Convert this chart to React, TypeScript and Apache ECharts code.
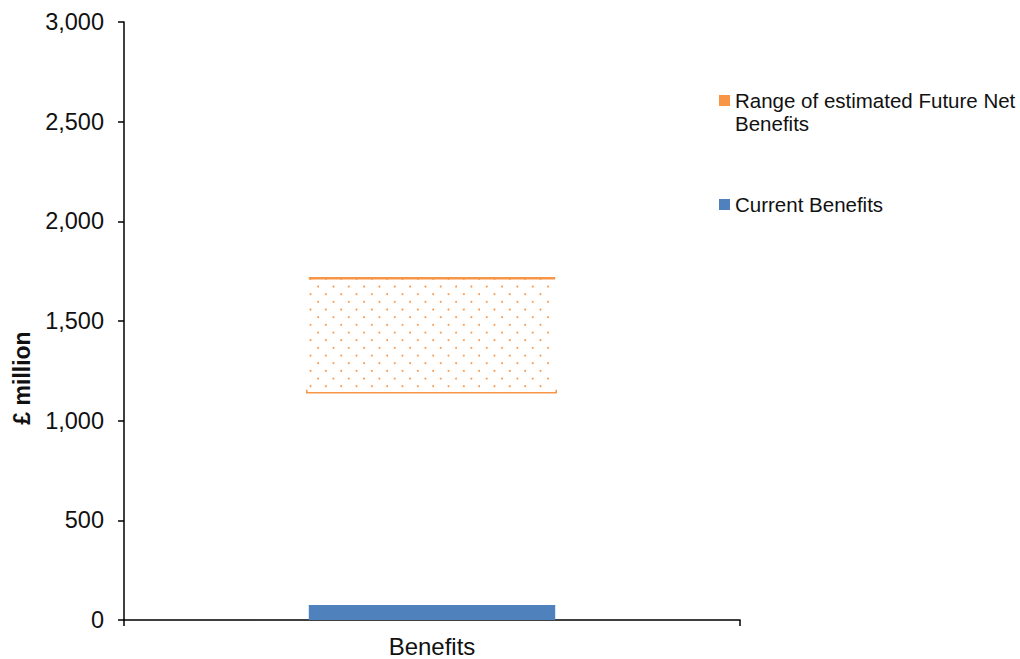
import React, { useEffect, useRef } from "react";
import * as echarts from "echarts";

const categories = ["Benefits"];
const currentBenefits = [75];
const futureLow = [1140];
const futureHigh = [1715];
const yMin = 0;
const yMax = 3000;
const yInterval = 500;
const rangeName = "Range of estimated Future Net Benefits";
const currentName = "Current Benefits";
const yAxisTitle = "£ million";

const ORANGE = "#F79646";
const BLUE = "#4F81BD";
const TEXT = "#111111";
const FONT = "'Liberation Sans', Arial, sans-serif";

export default function App() {
  const ref = useRef<HTMLDivElement>(null);

  useEffect(() => {
    document.body.style.margin = "0";
    if (!ref.current) return;
    const chart = echarts.init(ref.current, undefined, { renderer: "svg" });

    const rangeData = categories.map((c, i) => [i, futureLow[i], futureHigh[i]]);

    const renderRange = (params: any, api: any) => {
      const idx = api.value(0);
      const low = api.value(1);
      const high = api.value(2);
      const pLow = api.coord([idx, low]);
      const pHigh = api.coord([idx, high]);
      const bw = api.size([1, 0])[0] * 0.4;
      const cx = pLow[0];
      const left = cx - bw / 2;
      const right = cx + bw / 2;
      const yTop = pHigh[1];
      const yBot = pLow[1];
      const children: any[] = [];
      const rowStep = 7.67;
      const colStep = 15.33;
      let r = 0;
      for (let y = yTop + 0.7; y < yBot - 2; y += rowStep, r++) {
        const start = left + (r % 2 === 0 ? 1.7 : 9.3);
        for (let x = start; x <= right - 1; x += colStep) {
          children.push({
            type: "circle",
            shape: { cx: x, cy: y, r: 1.0 },
            style: { fill: ORANGE, opacity: 0.9 },
            silent: true,
          });
        }
      }
      children.push({
        type: "line",
        shape: { x1: left, y1: yTop, x2: right, y2: yTop },
        style: { stroke: ORANGE, lineWidth: 2.5 },
      });
      children.push({
        type: "polyline",
        shape: {
          points: [
            [left - 2, yBot - 3],
            [left - 2, yBot],
            [right + 1, yBot],
            [right + 1, yBot - 3],
          ],
        },
        style: { stroke: ORANGE, lineWidth: 1.5, fill: "none" },
      });
      return { type: "group", children };
    };

    chart.setOption({
      animation: false,
      textStyle: { fontFamily: FONT },
      grid: { left: 124, right: 280, top: 22, bottom: 39, containLabel: false },
      legend: [
        {
          data: [rangeName],
          orient: "vertical",
          left: 719,
          top: 66,
          padding: 0,
          itemWidth: 11,
          itemHeight: 11,
          icon: "rect",
          textStyle: { fontSize: 20.5, color: TEXT, lineHeight: 23, fontFamily: FONT },
          formatter: () => "\nRange of estimated Future Net\nBenefits",
          selectedMode: false,
        },
        {
          data: [currentName],
          orient: "vertical",
          left: 719,
          top: 193,
          padding: 0,
          itemWidth: 11,
          itemHeight: 11,
          icon: "rect",
          textStyle: { fontSize: 20.5, color: TEXT, lineHeight: 23, fontFamily: FONT },
          selectedMode: false,
        },
      ],
      xAxis: {
        type: "category",
        data: categories,
        axisLine: { lineStyle: { color: "#000", width: 1.5 } },
        axisTick: { show: true, length: 6, lineStyle: { color: "#000", width: 1.5 } },
        axisLabel: { fontSize: 24, color: TEXT, margin: 14, fontFamily: FONT },
        splitLine: { show: false },
      },
      yAxis: {
        type: "value",
        min: yMin,
        max: yMax,
        interval: yInterval,
        axisLine: { show: true, lineStyle: { color: "#000", width: 1.5 } },
        axisTick: { show: true, length: 6, lineStyle: { color: "#000", width: 1.5 } },
        axisLabel: {
          fontSize: 23.5,
          color: TEXT,
          margin: 20,
          fontFamily: FONT,
          formatter: (v: number) => v.toLocaleString("en-US"),
        },
        splitLine: { show: false },
      },
      graphic: [
        {
          type: "text",
          x: 22,
          y: 378,
          rotation: Math.PI / 2,
          style: {
            text: yAxisTitle,
            fontSize: 23,
            fontWeight: "bold",
            fill: TEXT,
            align: "center",
            verticalAlign: "middle",
            fontFamily: FONT,
          },
        },
      ],
      series: [
        {
          name: currentName,
          type: "bar",
          data: currentBenefits,
          barWidth: "40%",
          itemStyle: { color: BLUE },
          z: 2,
        },
        {
          name: rangeName,
          type: "custom",
          data: rangeData,
          encode: { x: 0, y: [1, 2] },
          itemStyle: { color: ORANGE },
          renderItem: renderRange,
          z: 3,
        },
      ],
    });

    return () => {
      chart.dispose();
    };
  }, []);

  return <div ref={ref} style={{ width: 1020, height: 659 }} />;
}
